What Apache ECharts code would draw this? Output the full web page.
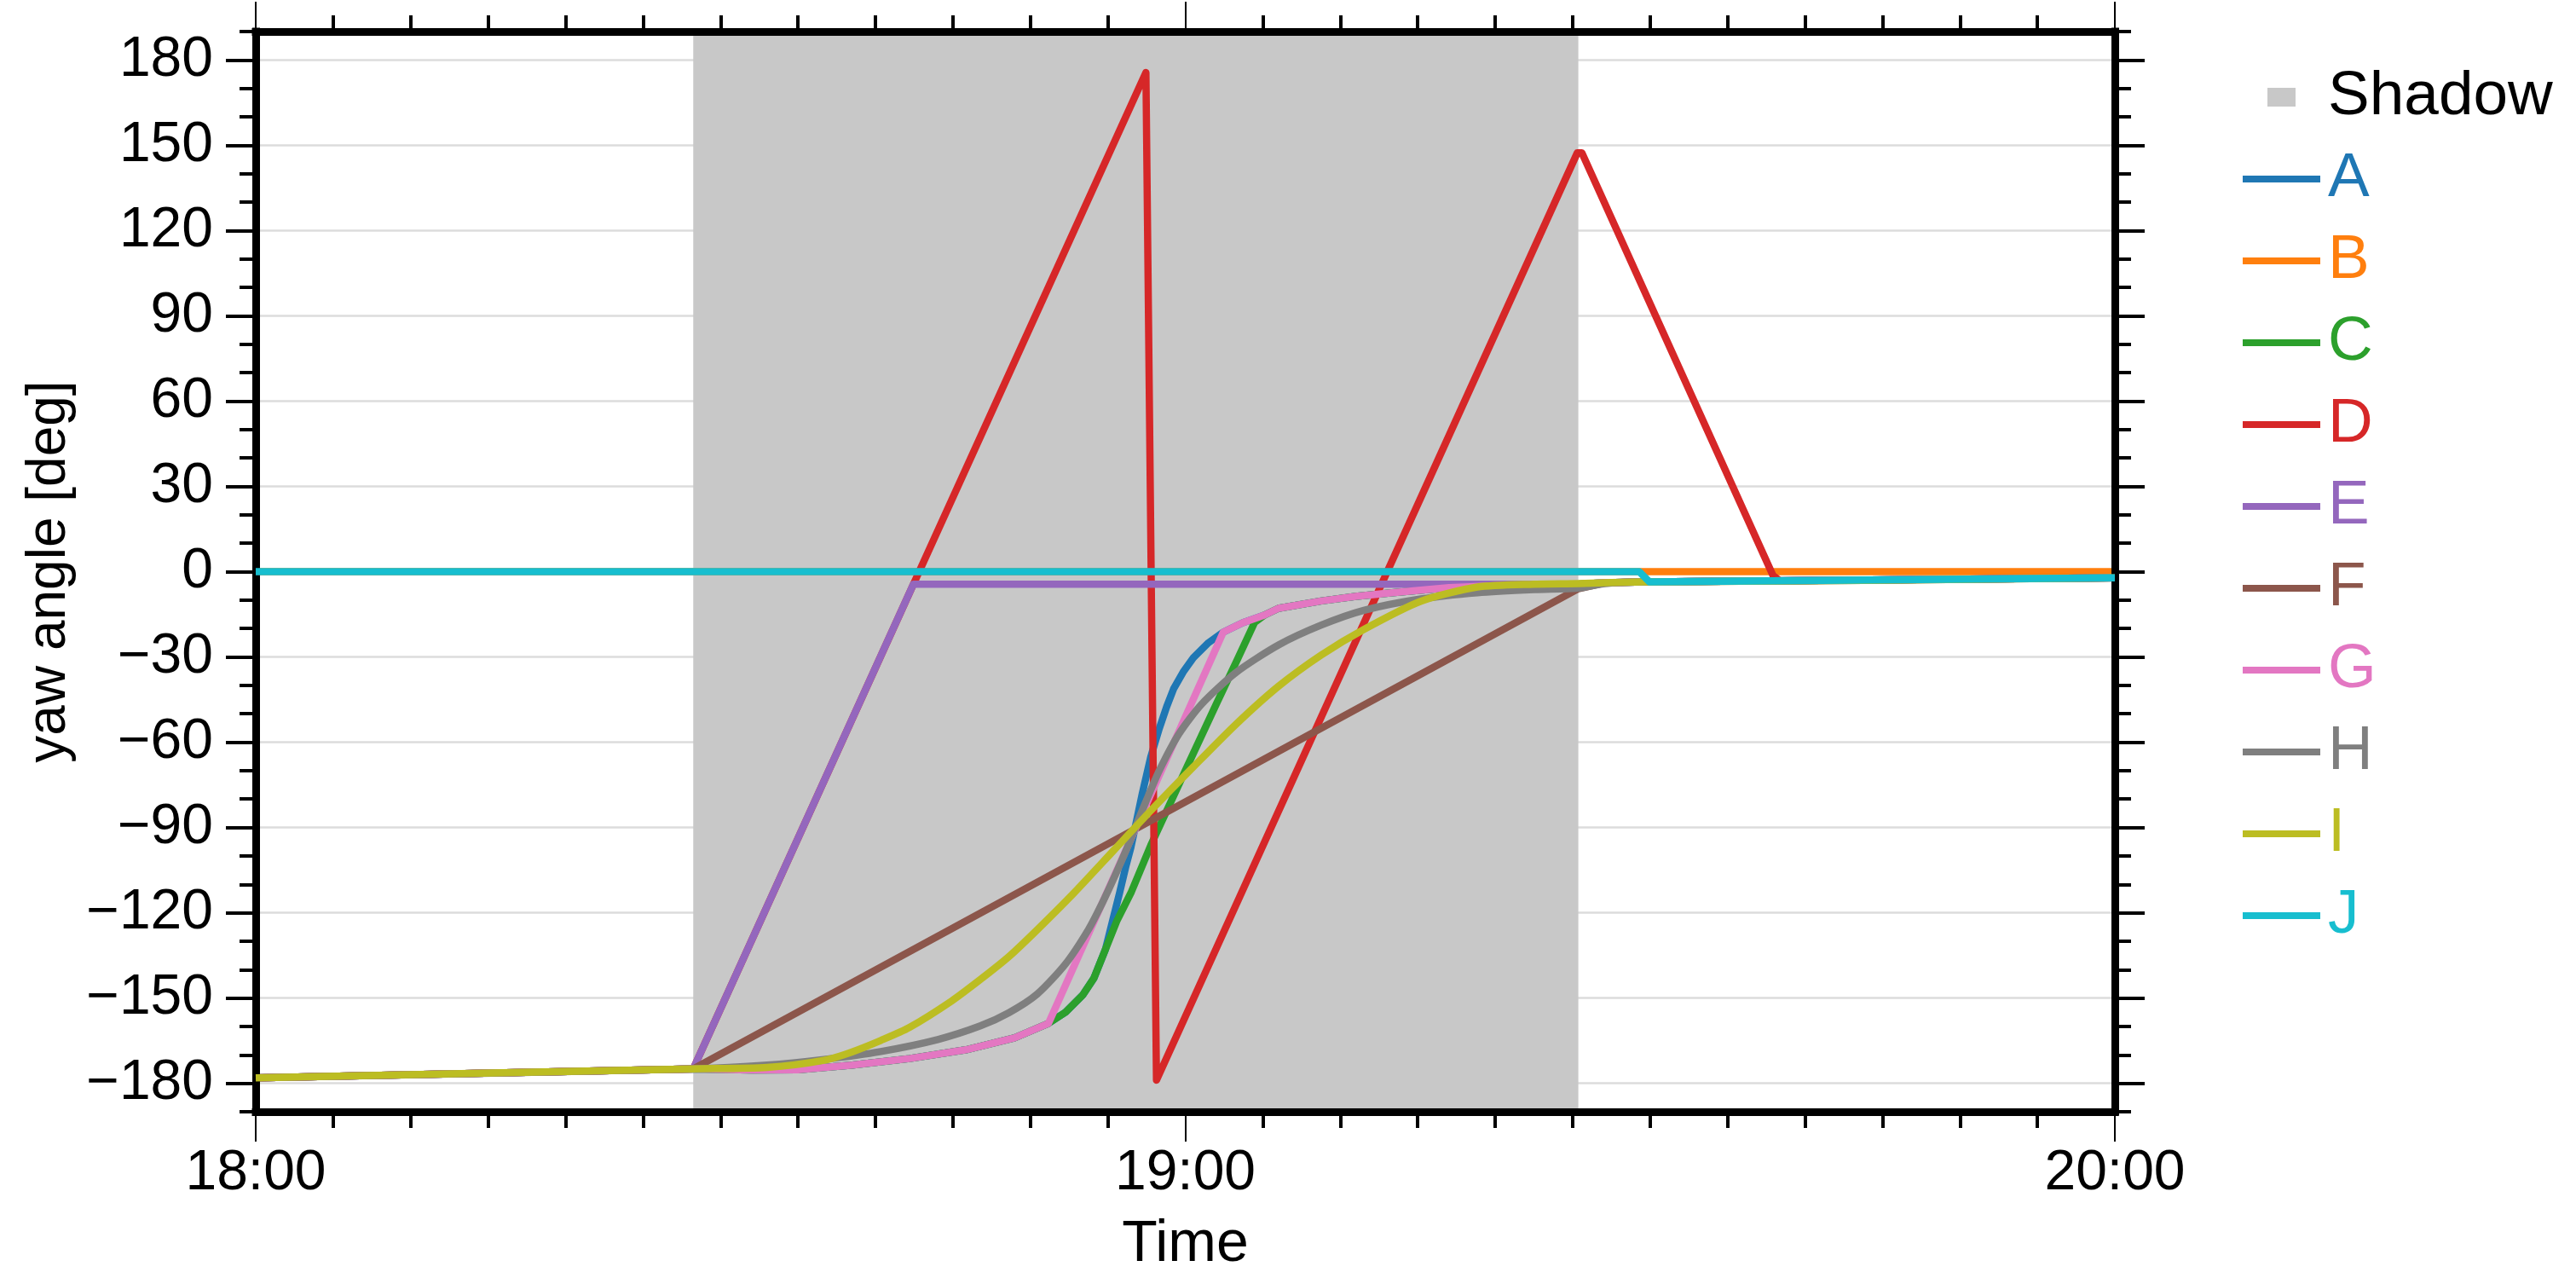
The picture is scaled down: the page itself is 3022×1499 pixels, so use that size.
<!DOCTYPE html>
<html>
<head>
<meta charset="utf-8">
<script src="https://cdn.jsdelivr.net/npm/echarts@6/dist/echarts.min.js"></script>
<style>
html,body{margin:0;padding:0;background:#fff;}
#chart{width:3022px;height:1499px;}
</style>
</head>
<body>
<div id="chart"></div>
<script>
// ---- data (x = minutes after 18:00, y = yaw angle in deg) ----
const seriesNames = ['A','B','C','D','E','F','G','H','I','J'];
const seriesColors = ['#1f77b4','#ff7f0e','#2ca02c','#d62728','#9467bd','#8c564b','#e377c2','#7f7f7f','#bcbd22','#17becf'];
const seriesSmooth = [0,0,0,0,0,0,0,0.25,0.25,0];
const timeLabels = ['18:00','19:00','20:00'];
const yTicks = [-180,-150,-120,-90,-60,-30,0,30,60,90,120,150,180];
const shadowSpan = [28.24, 85.37];

const A = [[0,-178.1],[28.24,-174.9],[32,-175.3],[35,-175.2],[38.5,-173.6],[42.2,-171.3],[45.85,-168.2],[48.97,-164],[51.17,-158.9],[52.27,-155],[53.37,-149],[54.1,-143],[54.84,-133],[55.3,-123],[55.76,-113],[56.15,-104],[56.49,-97],[56.76,-90.1],[57.22,-78.2],[57.77,-65.2],[58.32,-55.2],[58.8,-47.5],[59.24,-41.3],[59.9,-35],[60.52,-30.3],[61.5,-25],[62.45,-21.3],[63.7,-18],[65.1,-15.3],[66.02,-12.9],[68.78,-10.3],[71,-8.7],[73.36,-7.4],[77.03,-5.6],[80.7,-4.8],[85.37,-4.4],[87.1,-3.9],[89.7,-3.6],[89.96,-3.6],[120,-2.2]];
const B = [[0,0],[120,0]];
const C = [[0,-178.1],[28.24,-174.9],[32,-175.3],[35,-175.2],[38.5,-173.6],[42.2,-171.3],[45.85,-168.2],[48.97,-164],[51.17,-158.9],[52.27,-155],[53.37,-149],[54.1,-143],[54.84,-133],[55.57,-123],[56.49,-113],[57.77,-96.3],[60,-70],[62,-46.6],[63.27,-32],[64.47,-17.9],[65.1,-15.3],[66.02,-12.9],[68.78,-10.3],[71,-8.7],[73.36,-7.4],[77.03,-5.6],[80.7,-4.8],[85.37,-4.4],[87.1,-3.9],[89.7,-3.6],[89.96,-3.6],[120,-2.2]];
const D = [[0,-178.1],[28.24,-174.9],[57.46,175.6],[58.14,-178.9],[85.3,147.3],[85.6,147.3],[97.94,-1.4],[98.4,-3.25],[120,-2.2]];
const E = [[0,-178.1],[28.24,-174.9],[42.45,-4.4],[85.37,-4.4],[87.1,-3.9],[89.7,-3.6],[89.96,-3.6],[120,-2.2]];
const F = [[0,-178.1],[28.24,-174.9],[85.37,-6],[87.1,-3.9],[89.7,-3.6],[89.96,-3.6],[120,-2.2]];
const G = [[0,-178.1],[28.24,-174.9],[32,-175.3],[35,-175.2],[38.5,-173.6],[42.2,-171.3],[45.85,-168.2],[48.97,-164],[51.17,-158.9],[62.45,-21.3],[63.7,-18],[65.1,-15.3],[66.02,-12.9],[68.78,-10.3],[71,-8.7],[73.36,-7.4],[77.03,-5.6],[80.7,-4.8],[85.37,-4.4],[87.1,-3.9],[89.7,-3.6],[89.96,-3.6],[120,-2.2]];
const H = [[0,-178.1],[28.24,-174.9],[33.01,-173.6],[36.68,-171.6],[40.35,-168.8],[44.02,-164.6],[46.77,-159.8],[48.6,-155.2],[50.44,-148.6],[52.27,-138],[53.74,-126],[54.65,-116.5],[55.5,-106.5],[56.3,-96.5],[56.8,-89.7],[57.41,-81.5],[58.32,-70],[59.6,-57],[61.07,-46.5],[63.27,-35.5],[66.02,-25.8],[68.78,-18.8],[71.53,-13.6],[75.2,-9.6],[78.86,-7.4],[82.53,-6.3],[85.37,-5.8],[87.1,-4.2],[89.7,-3.6],[89.96,-3.6],[120,-2.2]];
const I = [[0,-178.1],[28.24,-174.9],[33.01,-174.4],[36.68,-171.9],[38.51,-168.9],[40.35,-164.9],[42.18,-160.4],[44.93,-151],[46.77,-143.5],[48.6,-135.5],[50.44,-126],[52.82,-113],[55.39,-98],[57.77,-84.1],[60.52,-68.7],[63.27,-53.7],[66.02,-40.3],[68.78,-29.3],[71.53,-20.3],[75.2,-10.4],[78.86,-5.4],[82.53,-4.4],[85.37,-4.2],[87.1,-3.9],[89.7,-3.6],[89.96,-3.6],[120,-2.2]];
const J = [[0,0],[89.3,0],[89.96,-3.6],[120,-2.2]];
const seriesData = [A,B,C,D,E,F,G,H,I,J];

// ---- chart ----
const FONT = "'Liberation Sans', Arial, Helvetica, sans-serif";
const chart = echarts.init(document.getElementById('chart'), null, {width:3022, height:1499, devicePixelRatio:1});

const frameLine = {show:true, onZero:false, lineStyle:{color:'#000', width:9, cap:'square'}};
const minorY = (pos) => ({
  type:'value', position:pos, min:-190, max:190, interval:10, z:10,
  axisLine: frameLine,
  axisTick:{show:true, inside:false, length:19, lineStyle:{color:'#000', width:4}},
  axisLabel:{show:false}, splitLine:{show:false}
});
const majorY = (pos, withLabels) => ({
  type:'value', position:pos, min:-190, max:190, interval:10, z:0,
  axisLine:{show:false, onZero:false},
  axisTick:{show:true, inside:false, length:35, customValues: yTicks, lineStyle:{color:'#000', width:4}},
  axisLabel: withLabels ? {show:true, customValues: yTicks, fontSize:66, fontFamily:FONT, color:'#000', margin:50,
      formatter: v => (v < 0 ? '\u2212' + (-v) : String(v))} : {show:false},
  splitLine: withLabels ? {show:true, lineStyle:{color:'#dcdcdc', width:2.5}} : {show:false},
  name: withLabels ? 'yaw angle [deg]' : '',
  nameLocation:'middle', nameGap:190,
  nameTextStyle:{fontSize:64, fontFamily:FONT, color:'#000'}
});
const xAx = (pos, withLabels) => ({
  type:'value', position:pos, min:0, max:120, interval:60, z:10,
  axisLine: frameLine,
  axisTick:{show:true, inside:false, length:35, lineStyle:{color:'#000', width:2}},
  minorTick:{show:true, splitNumber:12, length:19, lineStyle:{color:'#000', width:4}},
  axisLabel: withLabels ? {show:true, fontSize:66, fontFamily:FONT, color:'#000', margin:40,
      formatter: v => timeLabels[Math.round(v/60)]} : {show:false},
  splitLine:{show:false}, minorSplitLine:{show:false},
  name: withLabels ? 'Time' : '',
  nameLocation:'middle', nameGap:122,
  nameTextStyle:{fontSize:68, fontFamily:FONT, color:'#000'}
});

const lineIcon = 'path://M0 0 M95 24 M0 8 L91 8 L91 16 L0 16 Z';
const shadowIcon = 'path://M0 0 M95 24 M29 1 L62 1 L62 23 L29 23 Z';

const series = [{
  name:'Shadow', type:'line', data:[], z:1, color:'#c8c8c8',
  itemStyle:{color:'#c8c8c8'},
  markArea:{silent:true, itemStyle:{color:'#c8c8c8', opacity:1},
    data:[[{xAxis:shadowSpan[0]},{xAxis:shadowSpan[1]}]]}
}];
seriesNames.forEach((n,i) => {
  series.push({
    name:n, type:'line', data:seriesData[i], xAxisIndex:0, yAxisIndex:1,
    showSymbol:false, symbol:'none', color:seriesColors[i], z:2+i,
    smooth:seriesSmooth[i],
    lineStyle:{width:8.5, color:seriesColors[i], join:'round'}, emphasis:{disabled:true}
  });
});

const legendData = [{name:'Shadow', icon:shadowIcon, textStyle:{color:'#000'}}]
  .concat(seriesNames.map((n,i) => ({name:n, icon:lineIcon, textStyle:{color:seriesColors[i]}})));

chart.setOption({
  animation:false,
  backgroundColor:'#fff',
  grid:{left:300, top:37, width:2181, height:1271, containLabel:false},
  xAxis:[xAx('bottom', true), xAx('top', false)],
  yAxis:[minorY('left'), majorY('left', true), minorY('right'), majorY('right', false)],
  legend:{
    orient:'vertical', left:2626, top:69, itemWidth:95, itemHeight:24, itemGap:16,
    selectedMode:false, data:legendData,
    textStyle:{fontSize:73, lineHeight:80, fontFamily:FONT}
  },
  series: series
});
</script>
</body>
</html>
